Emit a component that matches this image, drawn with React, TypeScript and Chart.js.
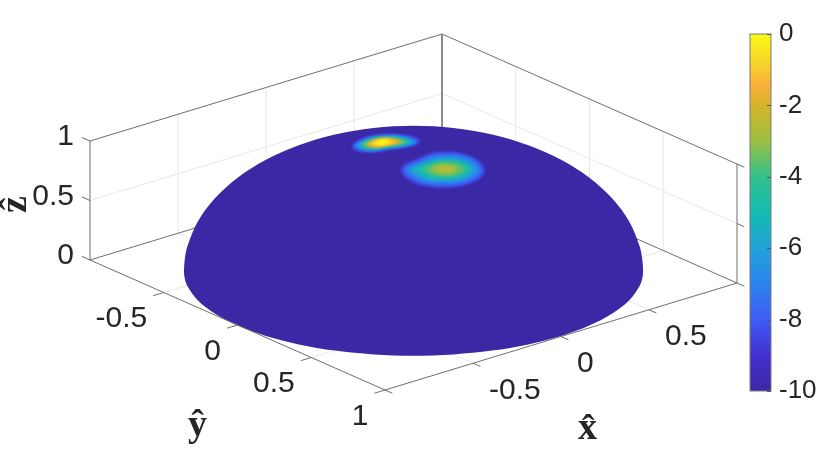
import React, { useEffect, useRef } from "react";
import { Chart, registerables } from "chart.js";

// axis ticks
const xTicks = [-0.5, 0, 0.5];
const yTicks = [-0.5, 0, 0.5];
const zTicks = [0, 0.5, 1];
const xTickLabels = ["-0.5", "0", "0.5"];
const yTickLabels = ["-0.5", "0", "0.5", "1"];
const zTickLabels = ["0", "0.5", "1"];
const colorbarTicks = [-10, -8, -6, -4, -2, 0];

// oblique view of the unit box: how one unit of x, y, z lands in the view plane
const viewX = [176, 53.5];
const viewY = [147.5, -65];
const viewZ = [0, 119];

// colour scale (parula)
const colorLevels = [-10, -9, -8, -7, -6, -5, -4, -3, -2, -1.4, -1, 0];
const colorValues = ["#3b28a4", "#4230d0", "#3f5cf5", "#2b82ee", "#20a2d8", "#14bcb2", "#30c08c", "#9cbf42", "#d6b42a", "#fcb03a", "#f8cb2e", "#f9fb15"];

// hemisphere silhouette in the view plane
const surfaceH = [-229.6, -228.7, -226.1, -215.8, -198.8, -175.9, -147.6, -114.8, -78.5, -39.9, 0, 39.9, 78.5, 114.8, 147.6, 175.9, 198.8, 215.8, 226.1, 228.7, 229.6, 228.7, 226.1, 215.8, 198.8, 175.9, 147.6, 114.8, 78.5, 39.9, 0, -39.9, -78.5, -114.8, -147.6, -175.9, -198.8, -215.8, -226.1, -228.7, -229.6];
const surfaceV = [0, 12.7, 25.3, 49.8, 72.9, 93.7, 111.7, 126.2, 137, 143.5, 145.75, 143.5, 137, 126.2, 111.7, 93.7, 72.9, 49.8, 25.3, 12.7, 0, -7.3, -14.6, -28.8, -42.1, -54.1, -64.5, -72.9, -79.1, -82.9, -84.2, -82.9, -79.1, -72.9, -64.5, -54.1, -42.1, -28.8, -14.6, -7.3, 0];

// narrow peak: centre in the view plane, then iso-contours as [level, offsets h, offsets v]
const peakACentre = [-30.5, 129];
const peakALevels = [-8.4, -7, -5.8, -4.6, -3.4, -2.4, -1.7, -1.3, -0.7, -0.3, -0.1];
const peakAH = [
  [37.5, 31, 15.3, 0.3, -14.7, -26.3, -31.3, -29, -21.3, -9.7, 5.3, 24, 33.5],
  [34.5, 23, 5, -12, -23, -29, -24, -10, 5, 21, 31],
  [30.5, 20, 4, -10, -20, -25.7, -21, -9, 4, 19, 28],
  [26.5, 17, 3, -9, -17, -22.3, -18, -8, 3, 16, 24],
  [23, 14, 3, -8, -15, -19.7, -16, -7, 3, 13, 20],
  [20.3, 12, 2.5, -7, -13, -17, -14, -6, 2.5, 11, 17.5],
  [17, 10, 2, -6, -11, -14.7, -12, -5, 2, 9, 14.5],
  [14.3, 8, 1.5, -5, -10, -13, -10.5, -4, 2, 8, 12],
  [11, 6, 0, -5, -8.5, -11.3, -9, -3.5, 2, 6, 9],
  [7, 4, -1, -5, -8, -5.5, -1, 3],
  [3.7, 0, -3, -4.7, -2, 2],
];
const peakAV = [
  [1.8, 6, 8.8, 8.8, 6.5, 1.5, -3.5, -7.5, -9.8, -10.2, -7.8, -5, -2.5],
  [1.5, 6, 7.5, 5.5, 1.5, -3, -7, -8.8, -6.5, -4.2, -1.8],
  [1.3, 5.2, 6.5, 4.8, 1.3, -2.6, -6, -7.5, -5.6, -3.6, -1.5],
  [1.1, 4.6, 5.5, 4, 1.1, -2.2, -5.2, -6.5, -4.8, -3, -1.2],
  [1, 4, 4.8, 3.5, 1, -1.9, -4.4, -5.5, -4, -2.5, -0.8],
  [0.9, 3.5, 4.2, 3, 0.9, -1.6, -3.8, -4.8, -3.5, -2, -0.5],
  [0.8, 3.1, 3.8, 2.7, 0.8, -1.4, -3.3, -4.2, -3, -1.8, -0.4],
  [0.7, 2.8, 3.5, 2.5, 0.7, -1.1, -2.8, -3.5, -2.5, -1.5, -0.3],
  [0.6, 2.6, 3.2, 2.3, 0.5, -0.9, -2.3, -2.8, -2, -1.2, -0.3],
  [0.4, 2, 2.5, 1.5, -0.2, -1.7, -2.2, -1.4],
  [0.2, 1.5, 0.9, -0.2, -1.2, -0.8],
];

// broad peak
const peakBCentre = [31.5, 102.2];
const peakBLevels = [-8.4, -7.4, -6.4, -5.4, -4.4, -3.6, -3, -2.5];
const peakBH = [
  [40, 36.7, 26.7, 13.3, 0, -15, -27.7, -37.7, -44, -40, -28.3, -15, 0, 16.7, 30, 37.7],
  [37.7, 33.5, 24.5, 12, 0, -13.5, -25, -34, -41, -36.5, -25.5, -13.5, 0, 15, 27, 34.5],
  [33.3, 30, 22, 10.5, 0, -12, -22, -30, -36.7, -32.5, -22.5, -12, 0, 13, 24, 30.5],
  [28.3, 25, 18.5, 9, 0, -10, -19, -26, -31.7, -28, -19.5, -10, 0, 11, 20, 26],
  [24.3, 20, 10, 0, -10, -19, -25.7, -20, -10, 0, 10, 20],
  [20, 15, 8, 0, -9, -15, -20, -15, -8, 0, 8, 15],
  [13.3, 9, 0, -9, -13.3, -9, 0, 9],
  [7.7, 4, 0, -4, -6.7, -4, 0, 4],
];
const peakBV = [
  [-1.3, 6, 12.7, 16.7, 17.7, 16, 10.3, 6.7, 0, -8, -14.7, -17.7, -18.7, -17, -12.3, -6.7],
  [-1, 5.5, 11.5, 15, 15.3, 14, 9, 5.5, 0, -7, -13, -15.5, -16, -15, -11, -6],
  [-0.8, 4.5, 9.5, 12.2, 12.7, 11.5, 7.5, 4.5, 0, -6, -11, -13, -13.3, -12.5, -9, -5],
  [-0.6, 4, 8, 10, 10, 9, 6, 3.5, 0, -5, -9, -11, -11.3, -10.5, -7.5, -4],
  [-0.5, 4.5, 8, 8.7, 7.5, 4.5, 0, -5, -8.3, -9, -8.3, -4.5],
  [-0.3, 4.5, 6.5, 7, 6, 3.5, 0, -4.5, -6.5, -7, -6.5, -4.5],
  [0, 3.5, 5, 3.5, 0, -3.5, -5, -3.5],
  [0, 2, 2.7, 2, 0, -2, -2.7, -2],
];

const TEXT = "#262626";
const SANS = '"Liberation Sans", Arial, sans-serif';

function hexToRgb(h: string) {
  return [1, 3, 5].map((i) => parseInt(h.slice(i, i + 2), 16));
}
function colorAt(level: number) {
  let i = 0;
  while (i < colorLevels.length - 2 && level > colorLevels[i + 1]) i++;
  const f = (level - colorLevels[i]) / (colorLevels[i + 1] - colorLevels[i]);
  const a = hexToRgb(colorValues[i]);
  const b = hexToRgb(colorValues[i + 1]);
  return `rgb(${a.map((v, k) => Math.round(v + (b[k] - v) * f)).join(",")})`;
}
function project(x: number, y: number, z: number) {
  return {
    x: viewX[0] * x + viewY[0] * y + viewZ[0] * z,
    y: viewX[1] * x + viewY[1] * y + viewZ[1] * z,
  };
}
type P3 = [number, number, number];
function segs(list: [P3, P3][]) {
  const out: { x: number; y: number }[] = [];
  list.forEach(([a, b]) => {
    out.push(project(...a), project(...b), { x: NaN, y: NaN });
  });
  return out;
}

const gridSegs: [P3, P3][] = [];
yTicks.forEach((t) => {
  gridSegs.push([[1, t, 0], [1, t, 1]]);
  gridSegs.push([[-1, t, 0], [1, t, 0]]);
});
xTicks.forEach((t) => {
  gridSegs.push([[t, -1, 0], [t, -1, 1]]);
  gridSegs.push([[t, -1, 0], [t, 1, 0]]);
});
gridSegs.push([[1, -1, 0.5], [1, 1, 0.5]]);
gridSegs.push([[-1, -1, 0.5], [1, -1, 0.5]]);

const backEdges: [P3, P3][] = [
  [[-1, -1, 1], [1, -1, 1]],
  [[1, -1, 1], [1, 1, 1]],
  [[-1, -1, 0], [1, -1, 0]],
  [[1, -1, 0], [1, 1, 0]],
  [[-1, -1, 0], [-1, -1, 1]],
  [[1, 1, 0], [1, 1, 1]],
];
zTicks.forEach((t) => backEdges.push([[-1, -1, t], [-1, -1.055, t]]));
zTicks.forEach((t) => backEdges.push([[1, 1, t], [1, 1.05, t]]));
const spine: [P3, P3][] = [[[1, -1, 0], [1, -1, 1]]];
const frontEdges: [P3, P3][] = [
  [[-1, -1, 0], [-1, 1, 0]],
  [[-1, 1, 0], [1, 1, 0]],
];
[...yTicks, 1].forEach((t) => frontEdges.push([[-1, t, 0], [-1.06, t, 0]]));
[-1, ...xTicks].forEach((t) => frontEdges.push([[t, 1, 0], [t, 1.05, 0]]));

function contour(c: number[], hs: number[], vs: number[]) {
  const pts = hs.map((h, i) => ({ x: c[0] + h, y: c[1] + vs[i] }));
  pts.push(pts[0]);
  return pts;
}

const softFill = {
  id: "softFill",
  beforeDatasetDraw(chart: any, args: any) {
    const blur = chart.data.datasets[args.index].softBlur;
    if (blur) {
      chart.ctx.save();
      chart.ctx.filter = `blur(${blur}px)`;
    }
  },
  afterDatasetDraw(chart: any, args: any) {
    if (chart.data.datasets[args.index].softBlur) chart.ctx.restore();
  },
};
Chart.register(softFill, ...registerables);

const axisText = {
  id: "axisText",
  afterDraw(chart: any) {
    const { ctx, scales } = chart;
    const px = (p: { x: number; y: number }) => [scales.x.getPixelForValue(p.x), scales.y.getPixelForValue(p.y)];
    ctx.save();
    ctx.fillStyle = TEXT;
    ctx.font = `30px ${SANS}`;
    ctx.textBaseline = "middle";
    ctx.textAlign = "right";
    zTicks.forEach((t, i) => {
      const [u, v] = px(project(-1, -1, t));
      ctx.fillText(zTickLabels[i], u - 16, v - 4);
    });
    [...yTicks, 1].forEach((t, i) => {
      const [u, v] = px(project(-1, t, 0));
      ctx.fillText(yTickLabels[i], u - 16.5, v + 26.5);
    });
    ctx.textAlign = "left";
    xTicks.forEach((t, i) => {
      const [u, v] = px(project(t, 1, 0));
      ctx.fillText(xTickLabels[i], u + 16, v + 27);
    });
    ctx.textAlign = "center";
    ctx.font = 'bold 38px "Liberation Serif", serif';
    const [xu, xv] = px(project(0, 1, 0));
    ctx.fillText("x\u0302", xu + 26.5, xv + 93);
    const [yu, yv] = px(project(-1, 0, 0));
    ctx.fillText("y\u0302", yu - 40, yv + 101);
    const [zu, zv] = px(project(-1, -1, 0.5));
    ctx.save();
    ctx.translate(zu - 74, zv + 4);
    ctx.rotate(-Math.PI / 2);
    ctx.fillText("z\u0302", 0, 0);
    ctx.restore();
    ctx.restore();
  },
};

const colorbarFrame = {
  id: "colorbarFrame",
  afterDraw(chart: any) {
    const { ctx, chartArea: a, scales } = chart;
    ctx.save();
    ctx.strokeStyle = "#7a7a7a";
    ctx.lineWidth = 1;
    ctx.strokeRect(a.left, a.top, a.right - a.left, a.bottom - a.top);
    ctx.strokeStyle = "#555";
    colorbarTicks.forEach((t) => {
      const v = Math.round(scales.y.getPixelForValue(t)) + 0.5;
      ctx.beginPath();
      ctx.moveTo(a.right - 4, v);
      ctx.lineTo(a.right, v);
      ctx.stroke();
    });
    ctx.restore();
  },
};

export default function App() {
  const mainRef = useRef<HTMLCanvasElement>(null);
  const barRef = useRef<HTMLCanvasElement>(null);

  useEffect(() => {
    const line = (data: any[], color: string, width: number) => ({
      data,
      showLine: true,
      borderColor: color,
      borderWidth: width,
      pointRadius: 0,
      fill: false,
      tension: 0,
      spanGaps: false,
    });
    const shape = (data: any[], color: string, tension: number, blur: number) => ({
      data,
      showLine: true,
      borderWidth: 0,
      backgroundColor: color,
      pointRadius: 0,
      fill: "shape",
      tension,
      softBlur: blur,
    });
    const layers: any[] = [
      line(segs(gridSegs), "#e8e8e8", 1),
      line(segs(backEdges), "#6e6e6e", 1),
      line(segs(spine), "#8c8c8c", 2),
      shape(surfaceH.map((h, i) => ({ x: h, y: surfaceV[i] })), colorValues[0], 0.33, 0),
      ...peakBLevels.map((l, i) => shape(contour(peakBCentre, peakBH[i], peakBV[i]), colorAt(l), 0.4, 1.2)),
      ...peakALevels.map((l, i) => shape(contour(peakACentre, peakAH[i], peakAV[i]), colorAt(l), 0.4, 0.9)),
      line(segs(frontEdges), "#6e6e6e", 1),
    ];
    layers.forEach((d, i) => (d.order = layers.length - i));

    const main = new Chart(mainRef.current!, {
      type: "scatter",
      data: { datasets: layers },
      options: {
        responsive: false,
        animation: false,
        layout: { padding: 0 },
        plugins: { legend: { display: false }, tooltip: { enabled: false } },
        scales: {
          x: { type: "linear", display: false, min: -413.5, max: 416.5 },
          y: { type: "linear", display: false, min: -194.5, max: 271.5 },
        },
      },
      plugins: [axisText],
    } as any);

    const bar = new Chart(barRef.current!, {
      type: "bar",
      data: {
        labels: [""],
        datasets: [
          {
            data: [[-10, 0]],
            barPercentage: 1,
            categoryPercentage: 1,
            borderWidth: 0,
            backgroundColor: (ctx: any) => {
              const a = ctx.chart.chartArea;
              if (!a) return colorValues[0];
              const g = ctx.chart.ctx.createLinearGradient(0, a.bottom, 0, a.top);
              colorLevels.forEach((l, i) => g.addColorStop((l + 10) / 10, colorValues[i]));
              return g;
            },
          },
        ],
      },
      options: {
        responsive: false,
        animation: false,
        layout: { padding: { left: 10, right: 9, top: 34, bottom: 75 } },
        plugins: { legend: { display: false }, tooltip: { enabled: false } },
        scales: {
          x: { display: false },
          y: {
            position: "right",
            min: -10,
            max: 0,
            afterFit: (s: any) => {
              s.width = 50;
            },
            grid: { display: false, drawTicks: false },
            border: { display: false },
            ticks: { stepSize: 2, padding: 8, color: TEXT, font: { family: SANS, size: 26 } },
          },
        },
      },
      plugins: [colorbarFrame],
    } as any);

    return () => {
      main.destroy();
      bar.destroy();
    };
  }, []);

  return (
    <div style={{ position: "fixed", left: 0, top: 0, width: 830, height: 466, background: "#fff" }}>
      <canvas ref={mainRef} width={830} height={466} style={{ position: "absolute", left: 0, top: 0, display: "block" }} />
      <canvas ref={barRef} width={90} height={466} style={{ position: "absolute", left: 740, top: 0, display: "block" }} />
    </div>
  );
}
